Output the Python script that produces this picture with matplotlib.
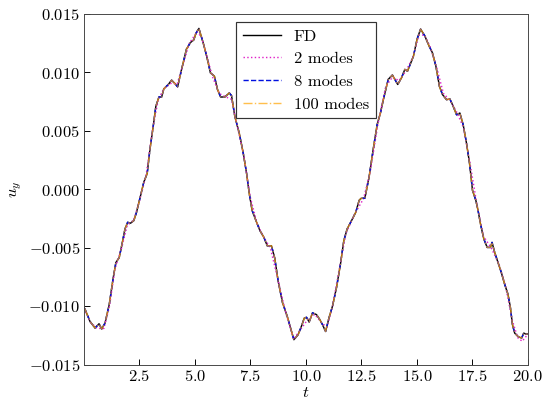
import matplotlib
matplotlib.use('Agg')
import matplotlib.pyplot as plt

# === Данные ===
t_fd = [0.01, 0.05, 0.27, 0.50, 0.68, 0.80, 0.95, 1.14, 1.32, 1.44, 1.59, 1.70,
        1.85, 1.97, 2.10, 2.25, 2.37, 2.52, 2.70, 2.85, 2.97, 3.12, 3.24, 3.38,
        3.50, 3.60, 3.80, 3.95, 4.10, 4.22, 4.40, 4.62, 4.80, 4.95, 5.05, 5.18,
        5.37, 5.53, 5.70, 5.88, 6.02, 6.16, 6.35, 6.55, 6.65, 6.80, 7.00, 7.18,
        7.33, 7.45, 7.58, 7.75, 7.93, 8.11, 8.26, 8.45, 8.60, 8.75, 8.95, 9.16,
        9.31, 9.46, 9.65, 9.80, 9.93, 10.03, 10.15, 10.30, 10.48, 10.63, 10.75,
        10.89, 11.04, 11.20, 11.38, 11.56, 11.71, 11.86, 12.06, 12.25, 12.40,
        12.48, 12.66, 12.85, 13.03, 13.21, 13.36, 13.51, 13.71, 13.90, 14.14,
        14.31, 14.46, 14.58, 14.70, 14.85, 15.01, 15.17, 15.36, 15.55, 15.70,
        15.86, 16.02, 16.16, 16.34, 16.49, 16.64, 16.79, 16.94, 17.09, 17.24,
        17.37, 17.51, 17.66, 17.76, 17.87, 18.02, 18.17, 18.32, 18.39, 18.51,
        18.66, 18.81, 18.96, 19.11, 19.22, 19.31, 19.41, 19.56, 19.72, 19.82,
        19.92, 20.00]
u_fd = [-0.01015, -0.01026, -0.01129, -0.01187, -0.01150, -0.01195, -0.01144,
        -0.00986, -0.00756, -0.00626, -0.00584, -0.00483, -0.00339, -0.00282,
        -0.00290, -0.00267, -0.00196, -0.00080, 0.00063, 0.00135, 0.00336,
        0.00537, 0.00710, 0.00790, 0.00790, 0.00860, 0.00897, 0.00934, 0.00905,
        0.00877, 0.01026, 0.01200, 0.01256, 0.01279, 0.01336, 0.01377, 0.01256,
        0.01140, 0.00997, 0.00968, 0.00853, 0.00790, 0.00790, 0.00825, 0.00802,
        0.00623, 0.00480, 0.00308, 0.00135, -0.00037, -0.00181, -0.00267,
        -0.00353, -0.00411, -0.00483, -0.00483, -0.00590, -0.00784, -0.00971,
        -0.01086, -0.01187, -0.01287, -0.01244, -0.01172, -0.01101, -0.01095,
        -0.01135, -0.01057, -0.01072, -0.01115, -0.01158, -0.01216, -0.01101,
        -0.01000, -0.00842, -0.00640, -0.00440, -0.00339, -0.00267, -0.00196,
        -0.00095, -0.00078, -0.00075, 0.00106, 0.00336, 0.00552, 0.00653,
        0.00782, 0.00940, 0.00978, 0.00897, 0.00954, 0.01026, 0.01011, 0.01069,
        0.01140, 0.01284, 0.01371, 0.01313, 0.01227, 0.01170, 0.01054, 0.00880,
        0.00810, 0.00767, 0.00773, 0.00710, 0.00638, 0.00653, 0.00552, 0.00394,
        0.00230, -0.00009, -0.00095, -0.00181, -0.00296, -0.00425, -0.00497,
        -0.00497, -0.00454, -0.00540, -0.00626, -0.00713, -0.00813, -0.00899,
        -0.01015, -0.01158, -0.01230, -0.01259, -0.01273, -0.01230, -0.01239,
        -0.01236]

# 2 моды - чуть глаже
t_2 = [0.01, 0.3, 0.6, 0.9, 1.15, 1.4, 1.7, 1.95, 2.25, 2.5, 2.8, 3.1, 3.35,
       3.6, 3.95, 4.2, 4.45, 4.75, 5.1, 5.3, 5.55, 5.8, 6.1, 6.4, 6.65, 6.9,
       7.2, 7.5, 7.8, 8.1, 8.4, 8.75, 9.1, 9.45, 9.8, 10.1, 10.4, 10.7, 10.95,
       11.2, 11.5, 11.8, 12.2, 12.6, 12.9, 13.25, 13.6, 13.9, 14.2, 14.5, 14.8,
       15.1, 15.35, 15.6, 15.9, 16.2, 16.5, 16.8, 17.1, 17.4, 17.7, 18.0, 18.35,
       18.7, 19.0, 19.3, 19.55, 19.75, 20.0]
u_2 = [-0.0102, -0.0114, -0.0119, -0.0119, -0.0100, -0.0068, -0.0050, -0.0031,
       -0.0026, -0.0010, 0.0012, 0.0052, 0.0077, 0.0086, 0.0091, 0.0090, 0.0106,
       0.0125, 0.0135, 0.0130, 0.0113, 0.0096, 0.0082, 0.0079, 0.0077, 0.0055,
       0.0029, -0.0007, -0.0029, -0.0041, -0.0050, -0.0078, -0.0106, -0.0128,
       -0.0119, -0.0111, -0.0107, -0.0114, -0.0118, -0.0100, -0.0069, -0.0038,
       -0.0021, -0.0008, 0.0015, 0.0056, 0.0088, 0.0096, 0.0093, 0.0101, 0.0112,
       0.0132, 0.0132, 0.0122, 0.0104, 0.0082, 0.0076, 0.0066, 0.0053, 0.0022,
       -0.0012, -0.0040, -0.0050, -0.0064, -0.0083, -0.0112, -0.0127, -0.0130,
       -0.0124]

# 8 и 100 мод практически совпадают с FD
u_8 = list(u_fd)
u_100 = list(u_fd)

plt.rcParams['font.family'] = 'serif'
plt.rcParams['font.serif'] = ['cmr10']
plt.rcParams['mathtext.fontset'] = 'cm'
plt.rcParams['axes.formatter.use_mathtext'] = True
plt.rcParams['font.size'] = 14

fig = plt.figure(figsize=(6.4, 4.8), dpi=84.84)
ax = fig.add_axes([0.155, 0.104, 0.817, 0.861])

ax.plot(t_fd, u_fd, color='black', lw=1.2, label='FD')
ax.plot(t_2, u_2, color='#e020c8', ls=':', lw=1.2, label='2 modes')
ax.plot(t_fd, u_8, color='#0010e0', ls='--', lw=1.2, label='8 modes')
ax.plot(t_fd, u_100, color='orange', ls='-.', lw=1.2, alpha=0.7, label='100 modes')

ax.set_xlim(0.01, 20)
ax.set_ylim(-0.015, 0.015)
ax.set_xticks([2.5, 5.0, 7.5, 10.0, 12.5, 15.0, 17.5, 20.0])
ax.set_yticks([-0.015, -0.010, -0.005, 0.0, 0.005, 0.010, 0.015])
ax.tick_params(direction='in', length=5)
ax.set_xlabel('$t$', labelpad=2)
ax.set_ylabel('$u_y$')
for s in ax.spines.values():
    s.set_color('#444444')

leg = ax.legend(loc='upper center', fancybox=False, framealpha=1,
                edgecolor='#333333', handlelength=2.3)

plt.savefig('out.png')
